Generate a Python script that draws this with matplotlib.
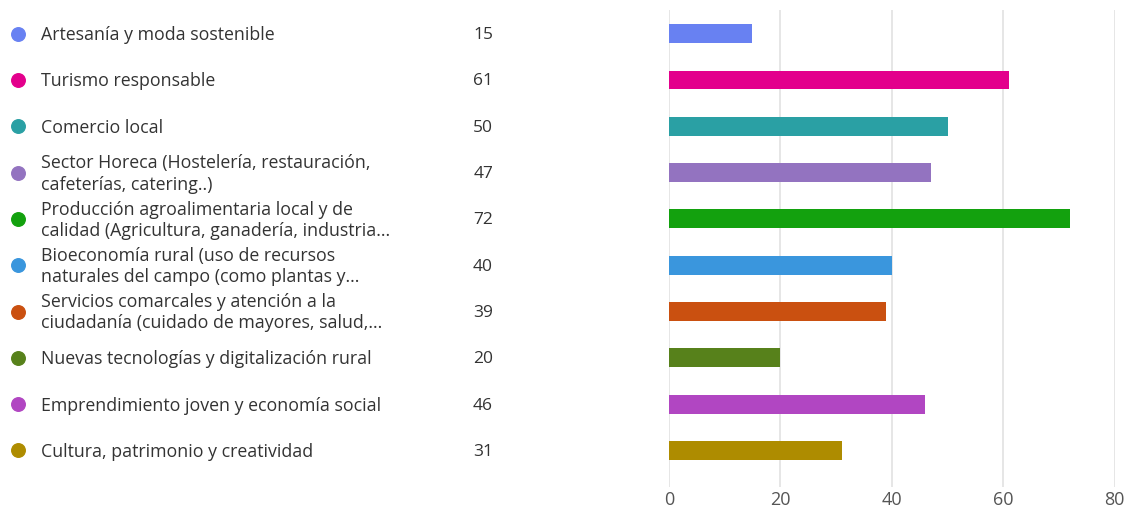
import matplotlib.pyplot as plt
from matplotlib.transforms import blended_transform_factory

# data
categories = [
    "Artesanía y moda sostenible",
    "Turismo responsable",
    "Comercio local",
    "Sector Horeca (Hostelería, restauración,\ncafeterías, catering..)",
    "Producción agroalimentaria local y de\ncalidad (Agricultura, ganadería, industria...",
    "Bioeconomía rural (uso de recursos\nnaturales del campo (como plantas y...",
    "Servicios comarcales y atención a la\nciudadanía (cuidado de mayores, salud,...",
    "Nuevas tecnologías y digitalización rural",
    "Emprendimiento joven y economía social",
    "Cultura, patrimonio y creatividad",
]
values = [15, 61, 50, 47, 72, 40, 39, 20, 46, 31]
colors = ["#6881F2", "#E3008C", "#2AA0A4", "#9373C0", "#13A10E",
          "#3A96DD", "#CA5010", "#57811B", "#B146C2", "#AE8C00"]
xticks = [0, 20, 40, 60, 80]

plt.rcParams['font.family'] = ['Open Sans', 'DejaVu Sans']

fig = plt.figure(figsize=(11.26, 5.09), dpi=100)
ax = fig.add_axes([0.594, 0.0432, 0.396, 0.937])

ypos = list(range(len(values)))
ax.barh(ypos, values, height=0.41, color=colors, zorder=3)

ax.set_xlim(0, 80)
ax.set_ylim(9.79, -0.51)
ax.set_xticks(xticks)
ax.set_yticks([])
ax.grid(axis='x', color='#e1e1e1', linewidth=1.2, zorder=0)
for s in ax.spines.values():
    s.set_visible(False)
ax.tick_params(axis='x', length=0, labelsize=13, labelcolor='#555555', pad=3)

# legend-like labels on the left
tr = blended_transform_factory(fig.transFigure, ax.transData)
for i, (cat, v, c) in enumerate(zip(categories, values, colors)):
    ax.scatter([18 / 1126], [i], s=95, color=c, transform=tr, clip_on=False, zorder=4)
    ax.text(41 / 1126, i + 0.03, cat, transform=tr, ha='left', va='center',
            fontsize=12.8, color='#333333', linespacing=1.22)
    ax.text(493 / 1126, i + 0.03, str(v), transform=tr, ha='right', va='center',
            fontsize=12.5, color='#333333')

plt.savefig('out.png', dpi=100)
